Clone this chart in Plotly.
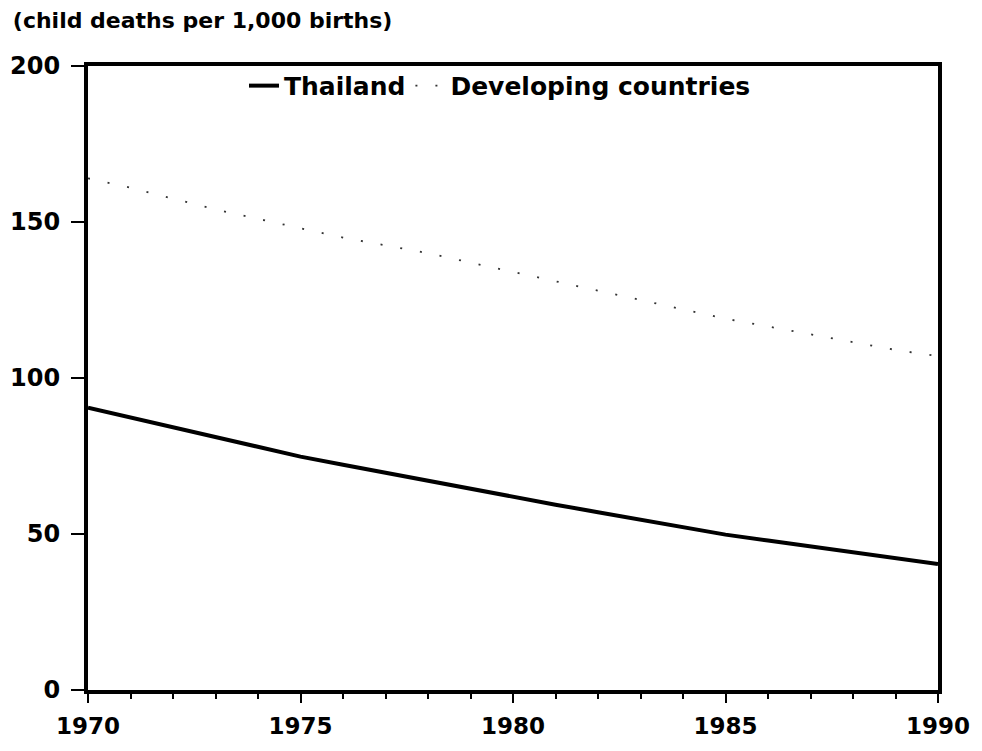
import plotly.graph_objects as go

years = list(range(1970, 1991))
thailand = [90.5, 87.3, 84.1, 81.0, 77.9, 74.8, 72.2, 69.6, 67.0, 64.4, 61.8,
            59.4, 57.0, 54.6, 52.2, 49.8, 47.9, 46.0, 44.1, 42.2, 40.4]
developing = [164, 161, 157.5, 154, 151, 148, 145, 142.5, 140, 137, 134,
              131, 128, 125, 122, 119, 116.5, 114, 111.5, 109, 107]
y_ticks = [0, 50, 100, 150, 200]
x_ticks = [1970, 1975, 1980, 1985, 1990]
title_text = "(child deaths per 1,000 births)"

def bold(size):
    return dict(family="DejaVu Sans", size=size, color="black", weight="bold")

fig = go.Figure()
fig.add_trace(go.Scatter(x=years, y=thailand, mode="lines", name="Thailand",
                         line=dict(color="black", width=4)))
fig.add_trace(go.Scatter(x=years, y=developing, mode="lines", name="Developing countries",
                         line=dict(color="#333333", width=1.8, dash="2px,18px")))

fig.update_layout(
    width=966, height=735,
    margin=dict(l=80, r=36, t=58, b=53, autoexpand=False),
    paper_bgcolor="white", plot_bgcolor="white",
    font=bold(24),
    showlegend=True,
    legend=dict(orientation="h", x=0.1835, xanchor="left", y=1.005, yanchor="top",
                bgcolor="rgba(0,0,0,0)", font=bold(25), itemwidth=30, tracegroupgap=0),
    title=dict(text=title_text, x=0.005, xanchor="left", y=0.983, yanchor="middle",
               font=bold(22)),
)
fig.update_xaxes(range=[1970, 1990], tickvals=x_ticks, ticks="outside", ticklen=9,
                 tickwidth=2, tickcolor="black", showline=True, linewidth=4,
                 linecolor="black", mirror=True, showgrid=False, zeroline=False,
                 automargin=False,
                 minor=dict(dtick=1, ticks="outside", ticklen=5, tickwidth=1.5,
                            tickcolor="black", showgrid=False),
                 tickfont=bold(23), ticklabelstandoff=3)
fig.update_yaxes(range=[0, 200], tickvals=y_ticks, ticks="outside", ticklen=13,
                 tickwidth=2, tickcolor="black", showline=True, linewidth=4,
                 linecolor="black", mirror=True, showgrid=False, zeroline=False,
                 automargin=False,
                 tickfont=bold(24), ticklabelstandoff=6)

fig.write_html("out.html")
